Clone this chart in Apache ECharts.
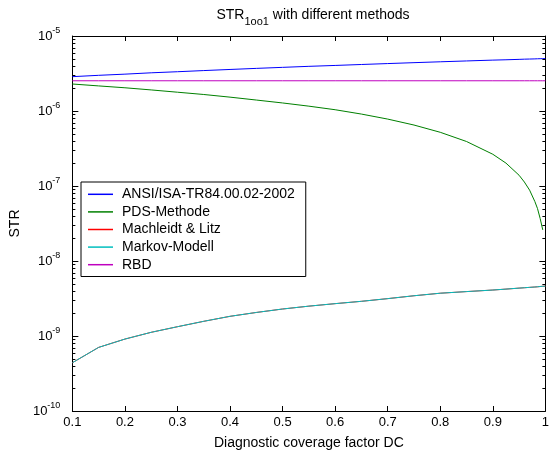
<!DOCTYPE html>
<html>
<head>
<meta charset="utf-8">
<script src="https://cdn.jsdelivr.net/npm/echarts@6/dist/echarts.min.js"></script>
<style>
  html, body { margin: 0; padding: 0; background: #fff; }
  #chart { width: 552px; height: 455px; }
</style>
</head>
<body>
<div id="chart"></div>
<script>
// Diagnostic coverage factor DC (x values)
const dc = [0.10, 0.15, 0.20, 0.25, 0.30, 0.35, 0.40, 0.45, 0.50, 0.55, 0.60, 0.65,
            0.70, 0.75, 0.80, 0.85, 0.90, 0.925, 0.95, 0.96, 0.97, 0.98, 0.985, 0.99, 0.995, 1.00];

const seriesNames = ['ANSI/ISA-TR84.00.02-2002', 'PDS-Methode', 'Machleidt & Litz', 'Markov-Modell', 'RBD'];

const ansi = [2.87e-6, 2.99e-6, 3.10e-6, 3.23e-6, 3.34e-6, 3.46e-6, 3.58e-6, 3.70e-6, 3.82e-6, 3.94e-6, 4.05e-6, 4.17e-6,
              4.29e-6, 4.41e-6, 4.53e-6, 4.65e-6, 4.77e-6, 4.82e-6, 4.88e-6, 4.91e-6, 4.93e-6, 4.95e-6, 4.97e-6, 4.98e-6, 4.99e-6, 5.00e-6];

const pds = [2.29e-6, 2.16e-6, 2.04e-6, 1.91e-6, 1.78e-6, 1.66e-6, 1.53e-6, 1.40e-6, 1.28e-6, 1.16e-6, 1.04e-6, 9.1e-7,
             7.8e-7, 6.5e-7, 5.2e-7, 3.92e-7, 2.65e-7, 2.02e-7, 1.39e-7, 1.13e-7, 8.8e-8, 6.2e-8, 5.0e-8, 3.7e-8, 2.6e-8, null];

const machleidt = [4.4e-10, 7.05e-10, 9.1e-10, 1.12e-9, 1.33e-9, 1.57e-9, 1.83e-9, 2.06e-9, 2.29e-9, 2.50e-9, 2.70e-9, 2.90e-9,
                   3.15e-9, 3.44e-9, 3.72e-9, 3.91e-9, 4.10e-9, 4.22e-9, 4.35e-9, 4.40e-9, 4.45e-9, 4.50e-9, 4.53e-9, 4.57e-9, 4.60e-9, 4.62e-9];

const markov = [4.4e-10, 7.05e-10, 9.1e-10, 1.12e-9, 1.33e-9, 1.57e-9, 1.83e-9, 2.06e-9, 2.29e-9, 2.50e-9, 2.70e-9, 2.90e-9,
                3.15e-9, 3.44e-9, 3.72e-9, 3.91e-9, 4.10e-9, 4.22e-9, 4.35e-9, 4.40e-9, 4.45e-9, 4.50e-9, 4.53e-9, 4.57e-9, 4.60e-9, 4.62e-9];

const rbd = [2.53e-6, 2.53e-6, 2.53e-6, 2.53e-6, 2.53e-6, 2.53e-6, 2.53e-6, 2.53e-6, 2.53e-6, 2.53e-6, 2.53e-6, 2.53e-6,
             2.53e-6, 2.53e-6, 2.53e-6, 2.53e-6, 2.53e-6, 2.53e-6, 2.53e-6, 2.53e-6, 2.53e-6, 2.53e-6, 2.53e-6, 2.53e-6, 2.53e-6, 2.53e-6];

const colors = ['#0000ff', '#008000', '#ff0000', '#00bfbf', '#bf00bf'];
const values = [ansi, pds, machleidt, markov, rbd];

// log-axis minor tick values (2..9 x 10^n), axis decoration only
const minorTicks = [];
for (let e = -10; e < -5; e++) {
  for (let k = 2; k <= 9; k++) minorTicks.push([0.1, k * Math.pow(10, e)]);
}

const FONT = '"Liberation Sans", Arial, sans-serif';

const lineSeries = seriesNames.map((name, i) => ({
  name: name,
  type: 'line',
  data: dc.map((x, j) => [x, values[i][j]]),
  showSymbol: false,
  symbol: 'none',
  lineStyle: { color: colors[i], width: 1 },
  itemStyle: { color: colors[i] },
  connectNulls: false,
  animation: false,
  z: 2
}));

const minorSeries = {
  type: 'custom',
  silent: true,
  animation: false,
  clip: false,
  data: minorTicks,
  renderItem: function (params, api) {
    const v = api.value(1);
    const pL = api.coord([0.1, v]);
    const pR = api.coord([1, v]);
    const y = Math.round(pL[1]) + 0.5;
    return {
      type: 'group',
      children: [
        { type: 'line', shape: { x1: pL[0], y1: y, x2: pL[0] + 3, y2: y }, style: { stroke: '#000', lineWidth: 1 } },
        { type: 'line', shape: { x1: pR[0] - 3, y1: y, x2: pR[0], y2: y }, style: { stroke: '#000', lineWidth: 1 } }
      ]
    };
  },
  z: 5
};

const chart = echarts.init(document.getElementById('chart'));
chart.setOption({
  backgroundColor: '#fff',
  animation: false,
  textStyle: { fontFamily: FONT },
  title: {
    text: '{a|STR}{b|1oo1}{a| with different methods}',
    left: 308,
    top: 3,
    textAlign: 'center',
    textStyle: {
      fontWeight: 'normal',
      rich: {
        a: { fontSize: 14, fontFamily: FONT, fontWeight: 'normal', color: '#000', lineHeight: 15, verticalAlign: 'top' },
        b: { fontSize: 11, fontFamily: FONT, fontWeight: 'normal', color: '#000', lineHeight: 12, padding: [8, 0, 0, 0], verticalAlign: 'top' }
      }
    }
  },
  legend: {
    data: seriesNames,
    orient: 'vertical',
    left: 81,
    top: 182,
    padding: [3.5, 11, 3, 7],
    itemGap: 0,
    itemWidth: 25,
    itemHeight: 1.5,
    icon: 'rect',
    borderColor: '#000',
    borderWidth: 1,
    borderRadius: 0,
    backgroundColor: '#fff',
    selectedMode: false,
    textStyle: { fontSize: 14, fontFamily: FONT, color: '#000', lineHeight: 17.6, padding: [0, 0, 0, 4] }
  },
  grid: { left: 71.5, right: 5.5, top: 36, bottom: 42 },
  xAxis: [{
    type: 'value',
    min: 0.1, max: 1, interval: 0.1,
    name: 'Diagnostic coverage factor DC',
    nameLocation: 'middle',
    nameGap: 25,
    nameTextStyle: { fontSize: 14, fontFamily: FONT, color: '#000' },
    axisLine: { show: true, lineStyle: { color: '#000', width: 1 } },
    axisTick: { show: true, inside: true, length: 5, lineStyle: { color: '#000' } },
    axisLabel: { fontSize: 13, fontFamily: FONT, color: '#000', margin: 5 },
    splitLine: { show: false }
  }, {
    type: 'value',
    position: 'top',
    min: 0.1, max: 1, interval: 0.1,
    axisLine: { show: true, lineStyle: { color: '#000', width: 1 } },
    axisTick: { show: true, inside: true, length: 5, lineStyle: { color: '#000' } },
    axisLabel: { show: false },
    splitLine: { show: false }
  }],
  yAxis: [{
    type: 'log',
    logBase: 10,
    min: 1e-10, max: 1e-5,
    name: 'STR',
    nameLocation: 'middle',
    nameGap: 44,
    nameTextStyle: { fontSize: 14, fontFamily: FONT, color: '#000' },
    axisLine: { show: true, lineStyle: { color: '#000', width: 1 } },
    axisTick: { show: true, inside: true, length: 6, lineStyle: { color: '#000' } },
    axisLabel: {
      margin: 12,
      formatter: function (v) {
        const e = Math.round(Math.log10(v));
        return '{b|10}{s|' + e + '}';
      },
      rich: {
        b: { fontSize: 13, fontFamily: FONT, color: '#000', lineHeight: 24, verticalAlign: 'middle' },
        s: { fontSize: 9, fontFamily: FONT, color: '#000', lineHeight: 10, padding: [2, 0, 0, 0], verticalAlign: 'top' }
      }
    },
    splitLine: { show: false }
  }, {
    type: 'log',
    logBase: 10,
    position: 'right',
    min: 1e-10, max: 1e-5,
    axisLine: { show: true, lineStyle: { color: '#000', width: 1 } },
    axisTick: { show: true, inside: true, length: 6, lineStyle: { color: '#000' } },
    axisLabel: { show: false },
    splitLine: { show: false }
  }],
  series: lineSeries.concat([minorSeries])
});
</script>
</body>
</html>
